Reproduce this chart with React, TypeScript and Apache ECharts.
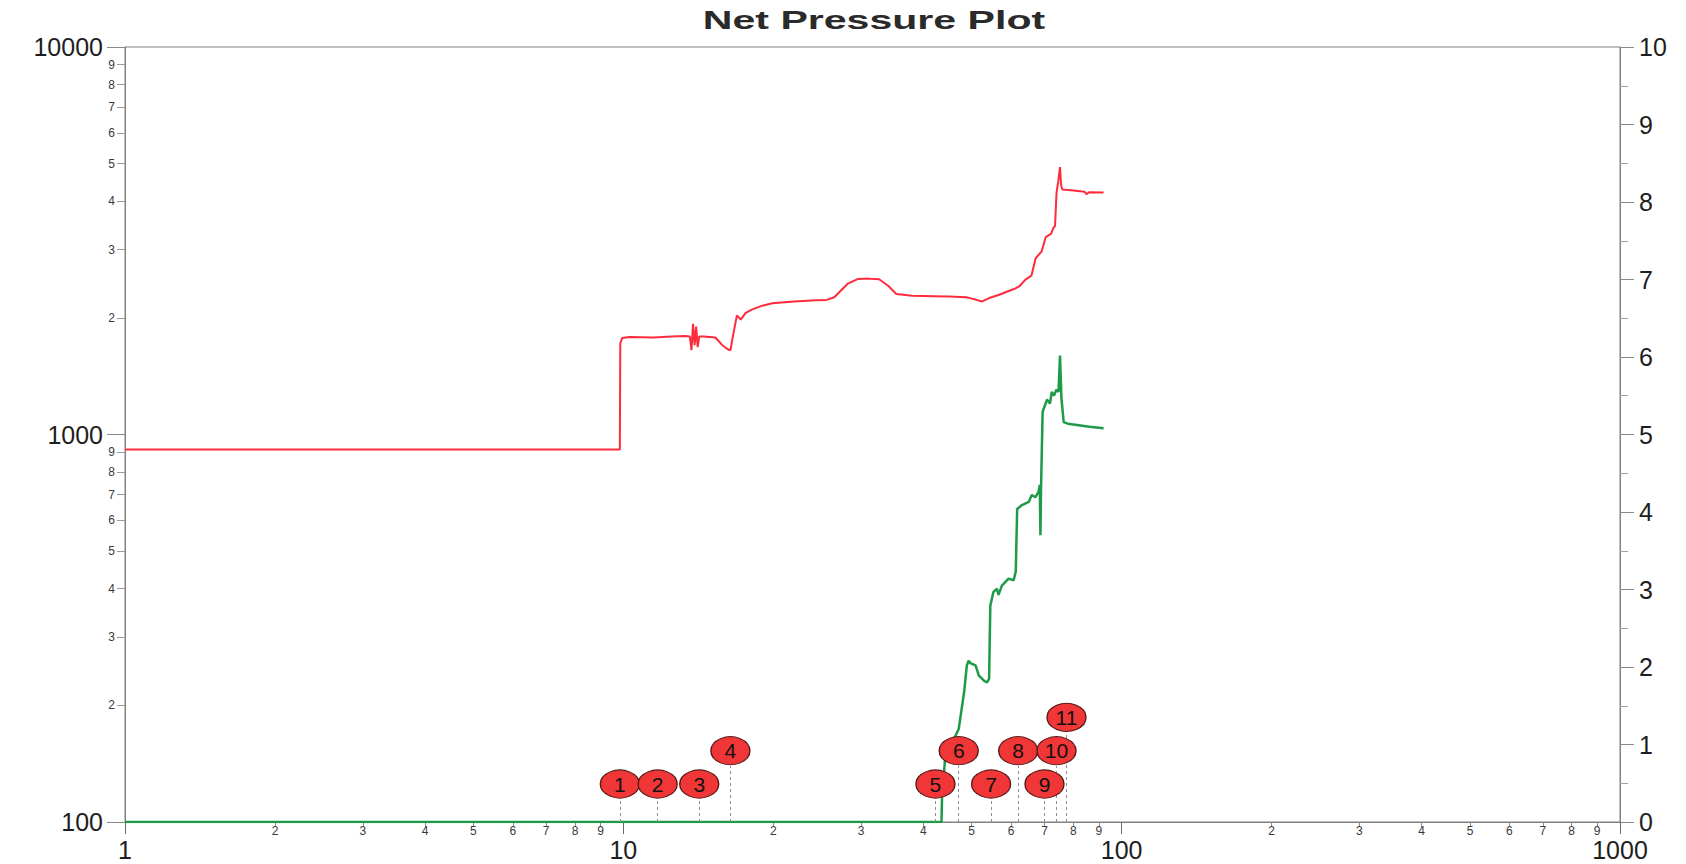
import React, { useEffect, useRef } from "react";
import * as echarts from "echarts";

const TITLE = "Net Pressure Plot";

// Net pressure (left log axis) vs time (log axis)
const pressureTime = [
  1, 9.84, 9.86, 9.95, 10.3, 11.5, 12.5, 13.3, 13.6, 13.7, 13.8, 13.9, 14.0, 14.1, 14.2, 14.5,
  15.3, 15.8, 16.2, 16.4, 16.6, 16.9, 17.2, 17.6, 18.1, 19.0, 19.9, 22, 24.4, 25.6, 26.5, 28.2,
  29.6, 31, 32.6, 34, 35.3, 38, 42, 45, 48.8, 50.5, 52.5, 54.2, 56.8, 59.5, 61.1, 62.5, 64.1,
  65.9, 67.2, 69.1, 70.4, 72.2, 73.0, 73.5, 74.0, 74.6, 75.2, 75.6, 76.0, 80, 84.3, 85, 86, 92,
];
const pressureValue = [
  915, 915, 1720, 1775, 1785, 1780, 1790, 1795, 1790, 1650, 1930, 1700, 1900, 1680, 1790, 1790,
  1780, 1700, 1660, 1650, 1800, 2030, 1980, 2060, 2100, 2150, 2180, 2205, 2220, 2225, 2260, 2450,
  2520, 2525, 2515, 2420, 2305, 2280, 2275, 2270, 2260, 2235, 2205, 2250, 2295, 2350, 2380, 2420, 2510,
  2570, 2850, 2970, 3230, 3300, 3420, 3450, 4200, 4500, 4900, 4400, 4290, 4260, 4230, 4170, 4220, 4210,
];

// Rate (right linear axis) vs time
const rateTime = [
  1, 43.5, 43.6, 44.2, 45.5, 47.1, 48.3, 48.9, 49.3, 49.7, 50.9, 51.7, 53.0, 53.7, 54.2, 54.5,
  55.3, 56.2, 56.6, 57.5, 59.3, 60.7, 61.3, 61.7, 63.1, 65.1, 66.0, 67.1, 68.1, 68.5, 68.7, 68.9,
  69.4, 70.8, 71.8, 72.4, 73.1, 74.0, 74.7, 75.2, 75.7, 76.5, 78, 86.2, 92,
];
const rateValue = [
  0, 0, 0.3, 0.8, 1.0, 1.2, 1.68, 2.02, 2.08, 2.05, 2.02, 1.89, 1.82, 1.8, 1.85, 2.79,
  2.97, 3.01, 2.93, 3.05, 3.14, 3.12, 3.23, 4.04, 4.09, 4.13, 4.22, 4.19, 4.26, 4.35, 3.7, 4.3,
  5.29, 5.45, 5.4, 5.55, 5.5, 5.58, 5.55, 6.02, 5.47, 5.16, 5.14, 5.1, 5.08,
];

// Event markers
const eventLabels = ["1", "2", "3", "4", "5", "6", "7", "8", "9", "10", "11"];
const eventTimes = [9.84, 11.72, 14.2, 16.4, 42.3, 47.1, 54.7, 62.0, 70.0, 74.0, 77.5];
const eventLevels = [0.49, 0.49, 0.49, 0.92, 0.49, 0.92, 0.49, 0.92, 0.49, 0.92, 1.35];

// Minor tick labels
const xMinorTicks = [2, 3, 4, 5, 6, 7, 8, 9, 20, 30, 40, 50, 60, 70, 80, 90, 200, 300, 400, 500, 600, 700, 800, 900];
const yMinorTicks = [200, 300, 400, 500, 600, 700, 800, 900, 2000, 3000, 4000, 5000, 6000, 7000, 8000, 9000];

const FONT = "Liberation Sans";
const AXIS_COLOR = "#808080";
const TEXT_COLOR = "#1e1e1e";

const leadDigit = (v: number) => {
  const p = Math.pow(10, Math.floor(Math.log10(v) + 1e-9));
  return String(Math.round(v / p));
};

export default function App() {
  const ref = useRef<HTMLDivElement>(null);

  useEffect(() => {
    if (!ref.current) return;
    const chart = echarts.init(ref.current, null, { renderer: "svg" });

    const pressureData = pressureTime.map((t, i) => [t, pressureValue[i]]);
    const rateData = rateTime.map((t, i) => [t, rateValue[i]]);
    const eventData = eventTimes.map((t, i) => [t, eventLevels[i]]);

    chart.setOption({
      animation: false,
      backgroundColor: "#ffffff",
      graphic: [
        {
          type: "text",
          x: 874,
          y: 20,
          scaleX: 1.58,
          style: {
            text: TITLE,
            font: `bold 26px "${FONT}"`,
            fill: "#2a2a2a",
            textAlign: "center",
            textVerticalAlign: "middle",
            align: "center",
            verticalAlign: "middle",
          },
        },
      ],
      grid: {
        left: 125,
        right: 66,
        top: 47,
        bottom: 42,
        show: true,
        borderColor: AXIS_COLOR,
        borderWidth: 1,
        backgroundColor: "transparent",
        containLabel: false,
        outerBoundsMode: "none",
      },
      xAxis: [
        {
          type: "log",
          logBase: 10,
          min: 1,
          max: 1000,
          position: "bottom",
          axisLine: { show: true, onZero: false, lineStyle: { color: AXIS_COLOR, width: 1 } },
          axisTick: { show: true, inside: false, length: 12, lineStyle: { color: "#6a6a6a" } },
          axisLabel: {
            show: true,
            margin: 15,
            fontSize: 25,
            fontFamily: FONT,
            color: TEXT_COLOR,
            formatter: (v: number) => String(Math.round(v)),
          },
          splitLine: { show: false },
          minorTick: { show: false },
        },
        {
          type: "log",
          logBase: 10,
          min: 1,
          max: 1000,
          position: "bottom",
          axisLine: { show: false, onZero: false },
          axisTick: { show: true, length: 5, customValues: xMinorTicks, lineStyle: { color: "#8a8a8a" } },
          axisLabel: {
            show: true,
            margin: 3,
            fontSize: 12,
            fontFamily: FONT,
            color: "#3a3a3a",
            customValues: xMinorTicks,
            formatter: (v: number) => leadDigit(v),
          },
          splitLine: { show: false },
        },
      ],
      yAxis: [
        {
          type: "log",
          logBase: 10,
          min: 100,
          max: 10000,
          position: "left",
          axisLine: { show: true, onZero: false, lineStyle: { color: AXIS_COLOR, width: 1 } },
          axisTick: { show: true, inside: false, length: 18, lineStyle: { color: "#8a8a8a" } },
          axisLabel: {
            show: true,
            margin: 22,
            fontSize: 25,
            fontFamily: FONT,
            color: TEXT_COLOR,
            formatter: (v: number) => String(Math.round(v)),
          },
          splitLine: { show: false },
        },
        {
          type: "value",
          min: 0,
          max: 10,
          interval: 1,
          position: "right",
          axisLine: { show: true, onZero: false, lineStyle: { color: AXIS_COLOR, width: 1 } },
          axisTick: { show: true, inside: false, length: 14, lineStyle: { color: "#8a8a8a" } },
          minorTick: { show: true, splitNumber: 2, length: 8, lineStyle: { color: "#a0a0a0" } },
          axisLabel: { show: true, margin: 19, fontSize: 25, fontFamily: FONT, color: TEXT_COLOR },
          splitLine: { show: false },
        },
        {
          type: "log",
          logBase: 10,
          min: 100,
          max: 10000,
          position: "left",
          axisLine: { show: false, onZero: false },
          axisTick: { show: true, length: 8, customValues: yMinorTicks, lineStyle: { color: "#9a9a9a" } },
          axisLabel: {
            show: true,
            margin: 10,
            fontSize: 12,
            fontFamily: FONT,
            color: "#3a3a3a",
            customValues: yMinorTicks,
            formatter: (v: number) => leadDigit(v),
          },
          splitLine: { show: false },
        },
      ],
      series: [
        {
          name: "Net Pressure",
          type: "line",
          xAxisIndex: 0,
          yAxisIndex: 0,
          data: pressureData,
          showSymbol: false,
          symbol: "none",
          lineStyle: { color: "#ff2b3c", width: 2 },
          z: 3,
        },
        {
          name: "Rate",
          type: "line",
          xAxisIndex: 0,
          yAxisIndex: 1,
          data: rateData,
          showSymbol: false,
          symbol: "none",
          lineStyle: { color: "#1f9a48", width: 2.5 },
          z: 4,
        },
        {
          name: "Events",
          type: "scatter",
          xAxisIndex: 0,
          yAxisIndex: 1,
          data: eventData,
          symbol: "circle",
          symbolSize: [39, 28],
          itemStyle: { color: "#f03636", borderColor: "#5a1a1a", borderWidth: 1.2, opacity: 1 },
          label: {
            show: true,
            position: "inside",
            fontSize: 21,
            fontFamily: FONT,
            color: "#111111",
            formatter: (p: any) => eventLabels[p.dataIndex],
          },
          markLine: {
            silent: true,
            symbol: ["none", "none"],
            label: { show: false },
            lineStyle: { color: "#8a8a9a", type: [3, 3], width: 1 },
            data: eventTimes.map((t, i) => [{ coord: [t, 0] }, { coord: [t, eventLevels[i] - 0.2] }]),
          },
          z: 6,
        },
      ],
    });

    return () => chart.dispose();
  }, []);

  return (
    <div
      ref={ref}
      style={{ position: "absolute", left: 0, top: 0, width: 1686, height: 864, background: "#fff" }}
    />
  );
}
